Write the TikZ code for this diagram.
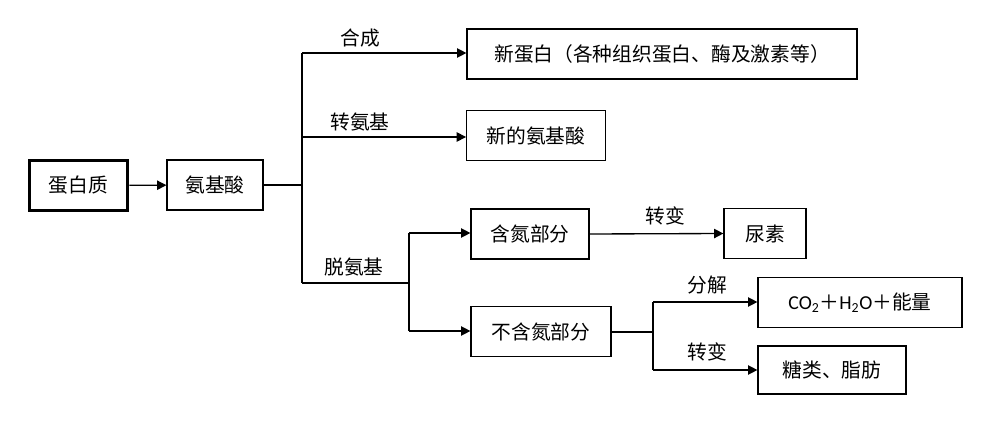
\documentclass[tikz,border=0pt]{standalone}
\usepackage{fontspec}
\setmainfont{Noto Sans CJK SC}
\newfontfamily\carlito{Carlito}
\usetikzlibrary{arrows.meta}
\begin{document}
\begin{tikzpicture}[x=0.75pt,y=-0.75pt,
  box/.style={draw,line width=0.9pt,inner sep=0pt,font=\fontsize{14.8}{17}\selectfont},
  conn/.style={line width=1pt,-{Triangle[length=7pt,width=7pt]}},
  plain/.style={line width=1pt},
  trunk/.style={line width=1.5pt},
  lbl/.style={font=\fontsize{14.8}{17}\selectfont,inner sep=0pt}]
\useasboundingbox (0,0) rectangle (1001,428);
% boxes
\node[box,line width=2.2pt,minimum width=74pt,minimum height=38pt] (p) at (78.5,185.5) {蛋白质};
\node[box,minimum width=72pt,minimum height=37.5pt] (a) at (215,185) {氨基酸};
\node[box,minimum width=292.5pt,minimum height=37.5pt] (b1) at (662,54) {新蛋白（各种组织蛋白、酶及激素等）};
\node[box,minimum width=104pt,minimum height=37pt] (b2) at (536,135.5) {新的氨基酸};
\node[box,minimum width=88.5pt,minimum height=37.5pt] (c1) at (530,234) {含氮部分};
\node[box,minimum width=105pt,minimum height=37pt] (c2) at (541,331.5) {不含氮部分};
\node[box,minimum width=61.5pt,minimum height=37pt] (u) at (765,233.5) {尿素};
\node[box,minimum width=153pt,minimum height=37pt] (d1) at (860,302.5) {{\carlito CO\textsubscript{2}}＋{\carlito H\textsubscript{2}O}＋能量};
\node[box,minimum width=111pt,minimum height=36pt] (d2) at (832,370) {糖类、脂肪};
% junction coordinates
\coordinate (j1) at (302,185);
\coordinate (j1t) at (302,53);
\coordinate (j1m) at (302,137);
\coordinate (j1b) at (302,283);
\coordinate (j2) at (409,283);
\coordinate (j2t) at (409,233);
\coordinate (j2b) at (409,331);
\coordinate (j3) at (653,332);
\coordinate (j3t) at (653,302);
\coordinate (j3b) at (653,370);
% connectors
\draw[conn] (p) -- (a);
\draw[plain] (a.east) -- (j1);
\draw[trunk] (j1t) -- (j1b);
\draw[conn] (j1t) -- (j1t -| b1.west);
\draw[conn] (j1m) -- (j1m -| b2.west);
\draw[plain] (j1b) -- (j2);
\draw[trunk] (j2t) -- (j2b);
\draw[conn] (j2t) -- (j2t -| c1.west);
\draw[conn] (j2b) -- (j2b -| c2.west);
\draw[conn] (c1.east) -- (u.west);
\draw[plain] (c2.east |- j3) -- (j3);
\draw[trunk] (j3t) -- (j3b);
\draw[conn] (j3t) -- (j3t -| d1.west);
\draw[conn] (j3b) -- (j3b -| d2.west);
% labels
\node[lbl] (l1) at (360,38) {合成};
\node[lbl] (l2) at (360,122) {转氨基};
\node[lbl] (l3) at (354,267) {脱氨基};
\node[lbl] (l4) at (665,216) {转变};
\node[lbl] (l5) at (707,285) {分解};
\node[lbl] (l6) at (707,352) {转变};
\end{tikzpicture}
\end{document}
